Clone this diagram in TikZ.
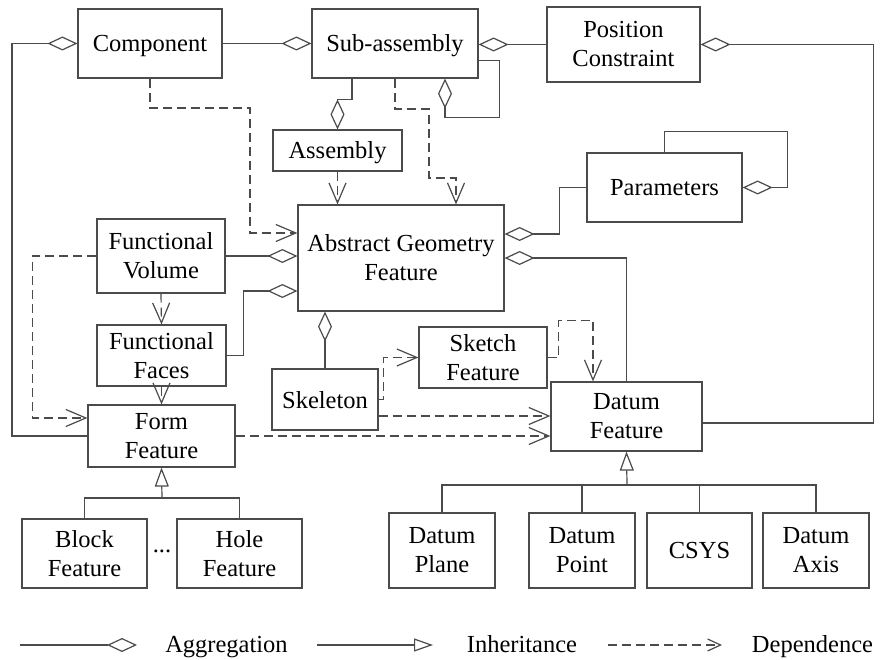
\documentclass[tikz,border=0pt]{standalone}
\usepackage{fontspec}
\setmainfont{Liberation Serif}
\usetikzlibrary{arrows.meta,calc}
\definecolor{linec}{RGB}{75,75,75}
\begin{document}
\begin{tikzpicture}[x=1pt,y=-1pt,
  every node/.style={font=\fontsize{24.5}{29}\selectfont, text=black},
  box/.style={draw=linec, line width=1.2pt, fill=white, align=center, inner sep=0pt},
  one/.style={text depth=0pt},
  conn/.style={draw=linec, line width=1.2pt},
  agg/.style={conn, -{Diamond[open,length=30pt,width=14pt]}},
  inh/.style={conn, -{Triangle[open,length=19pt,width=14pt]}},
  dep/.style={conn, dash pattern=on 9pt off 5pt, -{Straight Barb[length=20pt,width=17pt]}},
  lbl/.style={anchor=base}]

\fill[white] (0,0) rectangle (883,660);
\useasboundingbox (0,0) rectangle (883,660);

% ---- classes ----
\node[box, one, minimum width=144pt, minimum height=69pt] (comp)   at (150,43.5)   {Component};
\node[box, one, minimum width=166pt, minimum height=69pt] (sub)    at (395,43.5)   {Sub-assembly};
\node[box, minimum width=153pt, minimum height=75pt] (pos)    at (623.5,44.5) {Position\\Constraint};
\node[box, one, minimum width=129pt, minimum height=41pt] (asm)    at (337.5,150.5){Assembly};
\node[box, one, minimum width=155pt, minimum height=69pt] (par)    at (664.5,187.5){Parameters};
\node[box, minimum width=206pt, minimum height=106pt] (agf)   at (401,258)    {Abstract Geometry\\Feature};
\node[box, minimum width=128pt, minimum height=74pt] (fv)     at (161,256)    {Functional\\Volume};
\node[box, minimum width=129pt, minimum height=61pt] (ff)     at (161.5,355.5){Functional\\Faces};
\node[box, minimum width=147pt, minimum height=62pt] (form)   at (161.5,436)  {Form\\Feature};
\node[box, one, minimum width=106pt, minimum height=61pt] (skel)   at (325,399.5)  {Skeleton};
\node[box, minimum width=128pt, minimum height=61pt] (sketch) at (483,357.5)  {Sketch\\Feature};
\node[box, minimum width=151pt, minimum height=69pt] (datum)  at (626.5,416.5){Datum\\Feature};
\node[box, minimum width=125pt, minimum height=69pt] (block)  at (84.5,553.5)  {Block\\Feature};
\node[box, minimum width=125pt, minimum height=69pt] (hole)   at (239.5,553.5) {Hole\\Feature};
\node (dots) at (162,551) {...};
\node[box, minimum width=106pt, minimum height=75pt] (dplane) at (442,550.5)  {Datum\\Plane};
\node[box, minimum width=106pt, minimum height=75pt] (dpoint) at (582,550.5)  {Datum\\Point};
\node[box, one, minimum width=105pt, minimum height=75pt] (csys)   at (699.5,550.5){CSYS};
\node[box, minimum width=106pt, minimum height=75pt] (daxis)  at (816,550.5)  {Datum\\Axis};

% ---- aggregation ----
\coordinate (rail) at (12,0);
\draw[agg] (form.west) -- (form.west -| rail) |- (comp.west);
\draw[agg] (comp.east) -- (sub.west);
\draw[agg] (pos.west) -- (pos.west -| sub.east);
\draw[agg] ($(sub.south east)+(0,-18)$) -| ($(sub.south east)+(21,39)$) -| ($(sub.south)+(50,0)$);
\draw[agg] ($(sub.south)+(-43,0)$) -- ++(0,21) -| (asm.north);
\draw[agg] ($(datum.east)+(0,6.5)$) -| ($(pos.east)+(173,0)$) -- (pos.east);
\draw[agg] (par.north) -- ++(0,-21) -| ($(par.east)+(45,0)$) -- (par.east);
\draw[agg] (par.west) -- ++(-27,0) |- ($(agf.east)+(0,-24)$);
\draw[agg] (datum.north) |- (agf.east);
\draw[agg] (fv.east) -- (fv.east -| agf.west);
\draw[agg] (ff.east) -- ++(17,0) |- ($(agf.west)+(0,33)$);
\draw[agg] (skel.north) -- (skel.north |- agf.south);

% ---- dependence ----
\coordinate (skout) at ($(skel.east)+(0,16.5)$);
\draw[dep] (asm.south) -- (asm.south |- agf.north);
\draw[dep] (sub.south) |- (429,109) |- (456,178) -- ($(agf.north)+(55,0)$);
\draw[dep] (comp.south) |- (250,108) |- ($(agf.west)+(0,-25)$);
\draw[dep] (fv.south) -- (ff.north);
\draw[dep] (ff.south) -- (form.north);
\draw[dep] (fv.west) -- ++(-64,0) |- ($(form.west)+(0,-18)$);
\draw[dep] (form.east) -- (form.east -| datum.west);
\draw[dep] (skout) -- (skout -| datum.west);
\draw[dep] (skel.east) -- ++(5,0) |- (sketch.west);
\draw[dep] (sketch.east) -- ++(11,0) |- ($(datum.north)+(-33.5,-61)$) -- ($(datum.north)+(-33.5,0)$);

% ---- inheritance ----
\coordinate (fbar) at (162,498);
\draw[conn] (block.north) |- (fbar) -| (hole.north);
\draw[inh] (fbar) -- (form.south);
\coordinate (dbar) at (627,485);
\draw[conn] (dplane.north) |- (dbar) -| (daxis.north);
\draw[conn] (dpoint.north) -- (dpoint.north |- dbar);
\draw[conn] (csys.north) -- (csys.north |- dbar);
\draw[inh] (dbar) -- (datum.south);

% ---- legend ----
\coordinate (la) at (20,645);  \coordinate (lb) at (137,645);
\coordinate (lc) at (317,645); \coordinate (ld) at (433,645);
\coordinate (le) at (608,645); \coordinate (lf) at (722,645);
\draw[agg] (la) -- (lb);
\draw[conn, -{Triangle[open,length=19pt,width=13pt]}] (lc) -- (ld);
\draw[conn, dash pattern=on 9pt off 5pt, -{Straight Barb[length=13pt,width=12pt]}] (le) -- (lf);
\node[lbl] (tagg) at (226.5,652) {Aggregation};
\node[lbl] (tinh) at (522,652) {Inheritance};
\node[lbl] (tdep) at (812.5,652) {Dependence};
\end{tikzpicture}
\end{document}
